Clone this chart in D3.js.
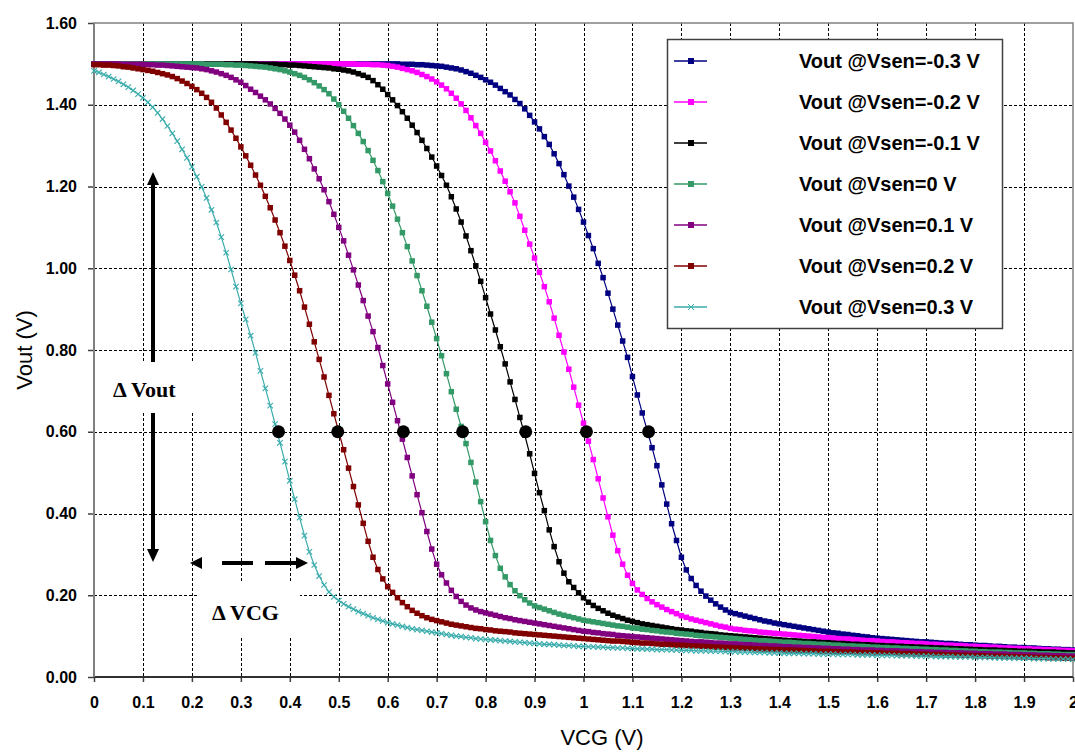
<!DOCTYPE html>
<html>
<head>
<meta charset="utf-8">
<script src="https://cdn.jsdelivr.net/npm/d3@7"></script>
<style>
body { margin: 0; background: #fff; }
text { font-family: Arial, "Liberation Sans", sans-serif; }
</style>
</head>
<body>
<div id="chart"></div>
<script>
// VCG sweep 0 .. 2 V, 0.01 V step
var vcg = d3.range(201).map(function (i) { return i / 100; });

var vout_m03 = [
  1.500,1.500,1.500,1.500,1.500,1.500,1.500,1.500,1.500,1.500,1.500,
  1.500,1.500,1.500,1.500,1.500,1.500,1.500,1.500,1.500,1.500,
  1.500,1.500,1.500,1.500,1.500,1.500,1.500,1.500,1.500,1.500,
  1.500,1.500,1.500,1.500,1.500,1.500,1.500,1.500,1.500,1.500,
  1.500,1.500,1.500,1.500,1.500,1.500,1.500,1.500,1.500,1.500,
  1.500,1.500,1.500,1.500,1.500,1.500,1.500,1.500,1.500,1.500,
  1.500,1.500,1.499,1.499,1.499,1.498,1.498,1.497,1.496,1.495,
  1.494,1.492,1.490,1.488,1.485,1.481,1.477,1.472,1.467,1.461,
  1.455,1.448,1.440,1.432,1.424,1.413,1.403,1.390,1.374,1.358,
  1.341,1.322,1.303,1.280,1.256,1.229,1.201,1.174,1.144,1.113,
  1.080,1.048,1.012,0.977,0.939,0.900,0.861,0.822,0.782,0.735,
  0.690,0.646,0.604,0.561,0.517,0.470,0.423,0.375,0.334,0.293,
  0.262,0.241,0.224,0.210,0.198,0.188,0.179,0.171,0.164,0.158,
  0.155,0.152,0.149,0.146,0.143,0.140,0.137,0.135,0.132,0.130,
  0.128,0.126,0.124,0.122,0.120,0.118,0.116,0.114,0.112,0.110,
  0.108,0.107,0.105,0.104,0.102,0.101,0.099,0.098,0.096,0.095,
  0.094,0.093,0.092,0.091,0.090,0.089,0.088,0.087,0.086,0.086,
  0.085,0.084,0.083,0.082,0.082,0.081,0.080,0.079,0.079,0.078,
  0.077,0.077,0.076,0.075,0.075,0.074,0.073,0.073,0.072,0.072,
  0.071,0.071,0.070,0.069,0.069,0.068,0.068,0.067,0.067,0.066
];

var vout_m02 = [
  1.500,1.500,1.500,1.500,1.500,1.500,1.500,1.500,1.500,1.500,1.500,
  1.500,1.500,1.500,1.500,1.500,1.500,1.500,1.500,1.500,1.500,
  1.500,1.500,1.500,1.500,1.500,1.500,1.500,1.500,1.500,1.500,
  1.500,1.500,1.500,1.500,1.500,1.500,1.500,1.500,1.500,1.500,
  1.500,1.500,1.500,1.500,1.500,1.500,1.500,1.500,1.500,1.500,
  1.500,1.500,1.500,1.499,1.499,1.499,1.498,1.498,1.497,1.496,
  1.494,1.492,1.489,1.486,1.483,1.479,1.474,1.469,1.463,1.456,
  1.448,1.439,1.428,1.416,1.402,1.386,1.368,1.349,1.330,1.308,
  1.287,1.263,1.238,1.213,1.187,1.160,1.127,1.093,1.059,1.025,
  0.990,0.955,0.918,0.878,0.836,0.795,0.753,0.709,0.665,0.621,
  0.577,0.532,0.485,0.438,0.392,0.347,0.309,0.276,0.249,0.229,
  0.213,0.202,0.192,0.184,0.177,0.171,0.165,0.160,0.155,0.150,
  0.146,0.142,0.139,0.136,0.133,0.130,0.127,0.124,0.122,0.119,
  0.117,0.116,0.114,0.113,0.112,0.110,0.109,0.108,0.107,0.106,
  0.105,0.104,0.103,0.102,0.101,0.100,0.099,0.098,0.097,0.096,
  0.095,0.094,0.093,0.093,0.092,0.091,0.090,0.089,0.089,0.088,
  0.087,0.086,0.086,0.085,0.084,0.084,0.083,0.082,0.082,0.081,
  0.080,0.080,0.079,0.078,0.078,0.077,0.077,0.076,0.075,0.075,
  0.074,0.074,0.073,0.073,0.072,0.071,0.071,0.070,0.070,0.069,
  0.069,0.068,0.068,0.067,0.067,0.066,0.066,0.065,0.065,0.064
];

var vout_m01 = [
  1.500,1.500,1.500,1.500,1.500,1.500,1.500,1.500,1.500,1.500,1.500,
  1.500,1.500,1.500,1.500,1.500,1.500,1.500,1.500,1.500,1.500,
  1.500,1.500,1.500,1.500,1.500,1.500,1.500,1.500,1.500,1.500,
  1.500,1.500,1.500,1.499,1.499,1.499,1.499,1.498,1.498,1.497,
  1.497,1.496,1.495,1.494,1.493,1.492,1.491,1.490,1.488,1.487,
  1.485,1.483,1.480,1.476,1.472,1.467,1.459,1.449,1.438,1.425,
  1.412,1.398,1.383,1.367,1.350,1.332,1.313,1.293,1.272,1.250,
  1.227,1.203,1.175,1.145,1.113,1.079,1.043,1.006,0.968,0.928,
  0.888,0.849,0.808,0.766,0.722,0.679,0.635,0.592,0.546,0.498,
  0.451,0.407,0.360,0.319,0.282,0.254,0.233,0.219,0.206,0.194,
  0.183,0.175,0.168,0.162,0.156,0.151,0.147,0.143,0.139,0.136,
  0.133,0.130,0.128,0.126,0.124,0.122,0.120,0.118,0.116,0.115,
  0.113,0.112,0.110,0.109,0.107,0.106,0.105,0.103,0.102,0.101,
  0.100,0.099,0.098,0.097,0.096,0.095,0.094,0.093,0.092,0.091,
  0.090,0.089,0.089,0.088,0.087,0.086,0.086,0.085,0.084,0.084,
  0.083,0.082,0.082,0.081,0.080,0.080,0.079,0.079,0.078,0.077,
  0.077,0.076,0.076,0.075,0.075,0.074,0.074,0.073,0.073,0.072,
  0.072,0.071,0.071,0.070,0.070,0.069,0.069,0.068,0.068,0.067,
  0.067,0.066,0.066,0.066,0.065,0.065,0.064,0.064,0.063,0.063,
  0.063,0.062,0.062,0.061,0.061,0.061,0.060,0.060,0.059,0.059
];

var vout_0 = [
  1.500,1.500,1.500,1.500,1.500,1.500,1.500,1.500,1.500,1.500,1.500,
  1.500,1.500,1.500,1.500,1.500,1.500,1.500,1.500,1.500,1.500,
  1.500,1.500,1.499,1.499,1.499,1.499,1.498,1.498,1.497,1.497,
  1.496,1.495,1.494,1.493,1.492,1.490,1.488,1.486,1.483,1.480,
  1.476,1.472,1.467,1.461,1.454,1.446,1.437,1.427,1.414,1.400,
  1.384,1.367,1.349,1.330,1.310,1.288,1.264,1.239,1.212,1.183,
  1.152,1.120,1.087,1.053,1.018,0.982,0.945,0.907,0.868,0.828,
  0.786,0.742,0.698,0.655,0.613,0.571,0.525,0.477,0.429,0.380,
  0.334,0.297,0.266,0.245,0.226,0.211,0.199,0.189,0.181,0.174,
  0.170,0.166,0.162,0.158,0.154,0.151,0.148,0.145,0.142,0.139,
  0.137,0.135,0.133,0.131,0.129,0.127,0.125,0.124,0.122,0.120,
  0.119,0.117,0.116,0.114,0.113,0.111,0.110,0.109,0.107,0.106,
  0.105,0.104,0.102,0.101,0.100,0.099,0.098,0.097,0.096,0.095,
  0.094,0.093,0.092,0.091,0.090,0.089,0.089,0.088,0.087,0.086,
  0.085,0.085,0.084,0.083,0.082,0.082,0.081,0.080,0.080,0.079,
  0.078,0.078,0.077,0.076,0.076,0.075,0.075,0.074,0.073,0.073,
  0.072,0.072,0.071,0.071,0.070,0.070,0.069,0.069,0.068,0.068,
  0.067,0.067,0.066,0.066,0.065,0.065,0.064,0.064,0.063,0.063,
  0.062,0.062,0.061,0.061,0.061,0.060,0.060,0.059,0.059,0.059,
  0.058,0.058,0.057,0.057,0.057,0.056,0.056,0.055,0.055,0.055
];

var vout_p01 = [
  1.500,1.500,1.500,1.500,1.500,1.500,1.499,1.499,1.499,1.499,1.499,
  1.498,1.498,1.497,1.497,1.496,1.495,1.494,1.493,1.492,1.491,
  1.490,1.488,1.486,1.483,1.480,1.476,1.472,1.467,1.461,1.455,
  1.447,1.438,1.430,1.421,1.412,1.402,1.391,1.379,1.365,1.350,
  1.333,1.313,1.291,1.268,1.243,1.219,1.192,1.163,1.132,1.100,
  1.067,1.032,0.996,0.959,0.921,0.883,0.845,0.806,0.762,0.717,
  0.672,0.627,0.582,0.537,0.492,0.446,0.402,0.356,0.313,0.276,
  0.250,0.230,0.212,0.197,0.185,0.176,0.169,0.164,0.160,0.157,
  0.154,0.151,0.148,0.145,0.143,0.140,0.138,0.136,0.134,0.132,
  0.130,0.128,0.126,0.124,0.122,0.120,0.118,0.116,0.114,0.112,
  0.111,0.109,0.108,0.106,0.105,0.104,0.102,0.101,0.100,0.099,
  0.098,0.097,0.096,0.095,0.094,0.093,0.092,0.091,0.090,0.089,
  0.088,0.087,0.086,0.086,0.085,0.084,0.083,0.083,0.082,0.081,
  0.081,0.080,0.079,0.079,0.078,0.077,0.077,0.076,0.076,0.075,
  0.074,0.074,0.073,0.073,0.072,0.072,0.071,0.071,0.070,0.070,
  0.069,0.069,0.068,0.068,0.067,0.067,0.066,0.066,0.066,0.065,
  0.065,0.064,0.064,0.064,0.063,0.063,0.062,0.062,0.062,0.061,
  0.061,0.060,0.060,0.060,0.059,0.059,0.059,0.058,0.058,0.058,
  0.057,0.057,0.057,0.056,0.056,0.056,0.055,0.055,0.055,0.054,
  0.054,0.054,0.053,0.053,0.053,0.052,0.052,0.052,0.051,0.051
];

var vout_p02 = [
  1.498,1.498,1.497,1.497,1.496,1.495,1.493,1.492,1.490,1.488,1.486,
  1.484,1.482,1.479,1.476,1.473,1.469,1.464,1.458,1.452,1.445,
  1.437,1.428,1.418,1.406,1.392,1.375,1.357,1.338,1.318,1.297,
  1.275,1.252,1.228,1.203,1.176,1.148,1.118,1.087,1.054,1.019,
  0.983,0.945,0.905,0.863,0.820,0.777,0.734,0.689,0.644,0.600,
  0.556,0.511,0.466,0.421,0.376,0.332,0.293,0.263,0.240,0.221,
  0.207,0.194,0.182,0.172,0.163,0.156,0.150,0.145,0.141,0.138,
  0.135,0.132,0.129,0.127,0.125,0.123,0.121,0.119,0.118,0.116,
  0.115,0.113,0.112,0.111,0.110,0.108,0.107,0.106,0.105,0.104,
  0.103,0.102,0.101,0.100,0.099,0.098,0.097,0.096,0.095,0.094,
  0.093,0.092,0.091,0.090,0.089,0.088,0.088,0.087,0.086,0.085,
  0.084,0.083,0.083,0.082,0.081,0.080,0.080,0.079,0.078,0.078,
  0.077,0.076,0.076,0.075,0.075,0.074,0.073,0.073,0.072,0.072,
  0.071,0.071,0.070,0.070,0.069,0.069,0.068,0.068,0.067,0.067,
  0.066,0.066,0.066,0.065,0.065,0.064,0.064,0.063,0.063,0.063,
  0.062,0.062,0.061,0.061,0.061,0.060,0.060,0.060,0.059,0.059,
  0.059,0.058,0.058,0.058,0.057,0.057,0.057,0.056,0.056,0.056,
  0.055,0.055,0.055,0.054,0.054,0.054,0.053,0.053,0.053,0.052,
  0.052,0.052,0.051,0.051,0.051,0.050,0.050,0.050,0.049,0.049,
  0.049,0.048,0.048,0.048,0.047,0.047,0.047,0.046,0.046,0.046
];

var vout_p03 = [
  1.483,1.479,1.474,1.469,1.463,1.457,1.450,1.443,1.435,1.426,1.417,
  1.406,1.394,1.380,1.365,1.348,1.330,1.311,1.291,1.270,1.248,
  1.224,1.199,1.172,1.143,1.112,1.076,1.038,0.997,0.955,0.914,
  0.875,0.835,0.793,0.749,0.706,0.664,0.619,0.573,0.527,0.480,
  0.435,0.390,0.346,0.306,0.274,0.247,0.225,0.208,0.196,0.187,
  0.179,0.172,0.166,0.160,0.155,0.150,0.145,0.141,0.137,0.133,
  0.130,0.127,0.124,0.121,0.118,0.116,0.114,0.112,0.110,0.108,
  0.106,0.104,0.102,0.100,0.099,0.097,0.096,0.094,0.093,0.092,
  0.091,0.090,0.089,0.088,0.087,0.086,0.085,0.084,0.083,0.082,
  0.081,0.080,0.080,0.079,0.078,0.077,0.077,0.076,0.075,0.075,
  0.074,0.074,0.073,0.073,0.072,0.072,0.071,0.071,0.070,0.070,
  0.069,0.069,0.068,0.068,0.067,0.067,0.067,0.066,0.066,0.065,
  0.065,0.065,0.064,0.064,0.064,0.063,0.063,0.063,0.062,0.062,
  0.062,0.061,0.061,0.061,0.060,0.060,0.060,0.059,0.059,0.059,
  0.058,0.058,0.058,0.058,0.057,0.057,0.057,0.056,0.056,0.056,
  0.056,0.055,0.055,0.055,0.055,0.054,0.054,0.054,0.054,0.053,
  0.053,0.053,0.053,0.052,0.052,0.052,0.052,0.051,0.051,0.051,
  0.051,0.050,0.050,0.050,0.050,0.049,0.049,0.049,0.049,0.048,
  0.048,0.048,0.048,0.047,0.047,0.047,0.047,0.046,0.046,0.046,
  0.046,0.045,0.045,0.045,0.045,0.044,0.044,0.044,0.044,0.043
];

var seriesNames = ["Vout @Vsen=-0.3 V", "Vout @Vsen=-0.2 V", "Vout @Vsen=-0.1 V",
                   "Vout @Vsen=0 V", "Vout @Vsen=0.1 V", "Vout @Vsen=0.2 V", "Vout @Vsen=0.3 V"];
var seriesColors = ["#000080", "#ff00ff", "#000000", "#339966", "#800080", "#800000", "#3aacac"];
var seriesValues = [vout_m03, vout_m02, vout_m01, vout_0, vout_p01, vout_p02, vout_p03];

var xTicks = [0,0.1,0.2,0.3,0.4,0.5,0.6,0.7,0.8,0.9,1,1.1,1.2,1.3,1.4,1.5,1.6,1.7,1.8,1.9,2];
var xTickLabels = ["0","0.1","0.2","0.3","0.4","0.5","0.6","0.7","0.8","0.9","1",
                   "1.1","1.2","1.3","1.4","1.5","1.6","1.7","1.8","1.9","2"];
var yTicks = [0,0.2,0.4,0.6,0.8,1.0,1.2,1.4,1.6];
var yTickLabels = ["0.00","0.20","0.40","0.60","0.80","1.00","1.20","1.40","1.60"];

// VCG where each curve crosses Vout = 0.6 V (black dots)
var crossVcg = [0.377, 0.498, 0.632, 0.753, 0.882, 1.006, 1.133];
var crossVout = 0.6;

seriesValues.forEach(function (s, i) {
    if (s.length !== vcg.length) throw new Error("series " + i + " has " + s.length + " values");
});

var margin = {top: 23, right: 2, bottom: 76, left: 94};
var width = 1075 - margin.left - margin.right;
var height = 753 - margin.top - margin.bottom;

var x = d3.scaleLinear().domain([0, 2]).range([0, width]);
var y = d3.scaleLinear().domain([0, 1.6]).range([height, 0]);

var svg = d3.select("#chart").append("svg")
    .attr("width", 1075)
    .attr("height", 753);
var g = svg.append("g")
    .attr("transform", "translate(" + margin.left + "," + margin.top + ")");

// dashed grid
g.selectAll(".gx").data(xTicks.slice(1, -1)).enter().append("line")
    .attr("x1", function (d) { return Math.round(x(d)) + 0.5; })
    .attr("x2", function (d) { return Math.round(x(d)) + 0.5; })
    .attr("y1", 0).attr("y2", height)
    .attr("stroke", "#000").attr("stroke-width", 1).attr("stroke-dasharray", "3,2");
g.selectAll(".gy").data(yTicks.slice(1, -1)).enter().append("line")
    .attr("y1", function (d) { return Math.round(y(d)) + 0.5; })
    .attr("y2", function (d) { return Math.round(y(d)) + 0.5; })
    .attr("x1", 0).attr("x2", width)
    .attr("stroke", "#000").attr("stroke-width", 1).attr("stroke-dasharray", "3,2");

// frame
g.append("rect").attr("x", 0).attr("y", 0).attr("width", width).attr("height", height)
    .attr("fill", "none").attr("stroke", "#808080").attr("stroke-width", 1.5);

// axes
var yAxis = g.append("g")
    .call(d3.axisLeft(y).tickValues(yTicks).tickSize(6).tickPadding(11)
        .tickFormat(function (d, i) { return yTickLabels[i]; }));
var xAxis = g.append("g")
    .attr("transform", "translate(0," + height + ")")
    .call(d3.axisBottom(x).tickValues(xTicks).tickSize(5).tickPadding(15)
        .tickFormat(function (d, i) { return xTickLabels[i]; }));
[xAxis, yAxis].forEach(function (a) {
    a.select(".domain").remove();
    a.selectAll(".tick line").attr("stroke", "#404040").attr("stroke-width", 1.5);
    a.selectAll(".tick text").attr("fill", "#000")
        .style("font-family", "Arial, 'Liberation Sans', sans-serif")
        .style("font-size", "16px").style("font-weight", "bold");
});
g.append("line").attr("x1", 0).attr("x2", width).attr("y1", height).attr("y2", height)
    .attr("stroke", "#303030").attr("stroke-width", 2);
g.append("line").attr("x1", 0).attr("x2", 0).attr("y1", 0).attr("y2", height)
    .attr("stroke", "#808080").attr("stroke-width", 2);

// axis titles
svg.append("text").attr("x", 602).attr("y", 745).attr("text-anchor", "middle")
    .style("font-size", "22px").text("VCG (V)");
svg.append("text").attr("transform", "translate(32,350) rotate(-90)").attr("text-anchor", "middle")
    .style("font-size", "22px").text("Vout (V)");

// annotation arrows
var ann = svg.append("g");
ann.append("line").attr("x1", 153).attr("x2", 153).attr("y1", 182).attr("y2", 552)
    .attr("stroke", "#000").attr("stroke-width", 4);
ann.append("path").attr("d", "M153,172L159,185L147,185Z").attr("fill", "#000");
ann.append("path").attr("d", "M153,562L159,549L147,549Z").attr("fill", "#000");
ann.append("path").attr("d", "M190,563L202,557L202,569Z").attr("fill", "#000");
ann.append("path").attr("d", "M308,563L296,557L296,569Z").attr("fill", "#000");
ann.append("line").attr("x1", 222).attr("x2", 253).attr("y1", 563).attr("y2", 563)
    .attr("stroke", "#000").attr("stroke-width", 4);
ann.append("line").attr("x1", 265).attr("x2", 298).attr("y1", 563).attr("y2", 563)
    .attr("stroke", "#000").attr("stroke-width", 4);

// label boxes
ann.append("rect").attr("x", 100).attr("y", 362).attr("width", 120).attr("height", 51).attr("fill", "#fff");
ann.append("rect").attr("x", 197).attr("y", 583).attr("width", 103).attr("height", 54).attr("fill", "#fff");
ann.append("text").attr("x", 113).attr("y", 397)
    .style("font-family", "'Liberation Serif', 'Times New Roman', serif")
    .style("font-size", "22px").style("font-weight", "bold").text("\u0394 Vout");
ann.append("text").attr("x", 212).attr("y", 620)
    .style("font-family", "'Liberation Serif', 'Times New Roman', serif")
    .style("font-size", "22px").style("font-weight", "bold").text("\u0394 VCG");

// series
var line = d3.line()
    .x(function (d) { return x(d[0]); })
    .y(function (d) { return y(d[1]); });

seriesValues.forEach(function (vals, i) {
    var pts = vcg.map(function (v, j) { return [v, vals[j]]; });
    var sg = g.append("g");
    sg.append("path").datum(pts).attr("d", line)
        .attr("fill", "none").attr("stroke", seriesColors[i]).attr("stroke-width", 1.2);
    if (i === 6) {
        sg.selectAll("path.m").data(pts).enter().append("path")
            .attr("transform", function (d) { return "translate(" + x(d[0]) + "," + y(d[1]) + ")"; })
            .attr("d", "M-2.7,-2.7L2.7,2.7M-2.7,2.7L2.7,-2.7")
            .attr("stroke", seriesColors[i]).attr("stroke-width", 1.1).attr("fill", "none");
    } else {
        sg.selectAll("rect").data(pts).enter().append("rect")
            .attr("x", function (d) { return x(d[0]) - 2.75; })
            .attr("y", function (d) { return y(d[1]) - 2.75; })
            .attr("width", 5.5).attr("height", 5.5)
            .attr("fill", seriesColors[i]);
    }
});

// Vout = 0.6 V crossing dots
g.selectAll("circle.cross").data(crossVcg).enter().append("circle")
    .attr("cx", function (d) { return x(d); })
    .attr("cy", y(crossVout))
    .attr("r", 6.5)
    .attr("fill", "#000");

// legend
var lg = svg.append("g").attr("transform", "translate(667,39)");
lg.append("rect").attr("x", 0.5).attr("y", 0.5).attr("width", 335).attr("height", 289)
    .attr("fill", "#fff").attr("stroke", "#404040").attr("stroke-width", 1.5);
seriesNames.forEach(function (name, i) {
    var ry = 22 + i * 41;
    lg.append("line").attr("x1", 7).attr("x2", 40).attr("y1", ry).attr("y2", ry)
        .attr("stroke", seriesColors[i]).attr("stroke-width", 1.5);
    if (i === 6) {
        lg.append("path").attr("transform", "translate(24," + ry + ")")
            .attr("d", "M-3,-3L3,3M-3,3L3,-3").attr("stroke", seriesColors[i]).attr("stroke-width", 1);
    } else {
        lg.append("rect").attr("x", 21).attr("y", ry - 3).attr("width", 6).attr("height", 6)
            .attr("fill", seriesColors[i]);
    }
    lg.append("text").attr("x", 132).attr("y", ry + 7)
        .style("font-size", "20px").style("font-weight", "bold").text(name);
});
</script>
</body>
</html>
